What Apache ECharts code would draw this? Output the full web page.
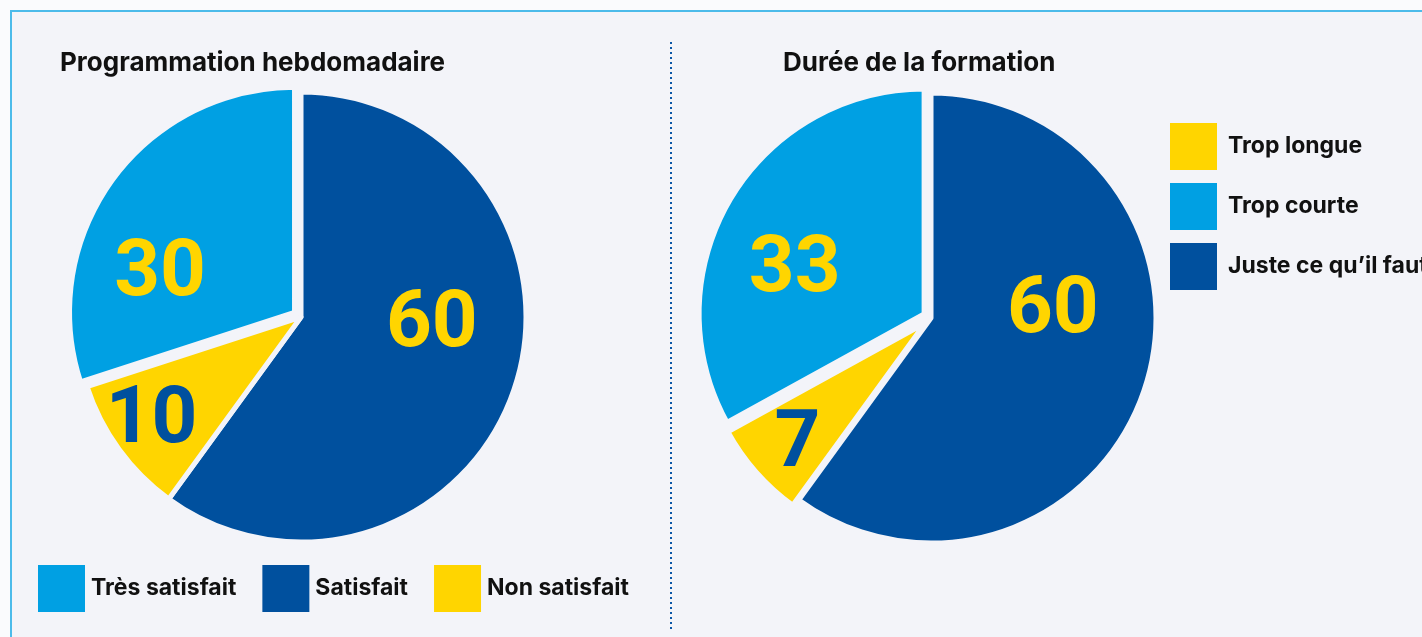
<!DOCTYPE html>
<html>
  <head>
    <meta charset="UTF-8" />
    <title>Satisfaction formation</title>
    <style>
      body {
        margin: 0;
        background-color: #fafbfd;
      }
      .frame {
        position: absolute;
        left: 10px;
        top: 10px;
        right: 0;
        bottom: 0;
        background-color: #f3f4f9;
        border-top: 2px solid #4cbbea;
        border-left: 2px solid #4cbbea;
      }
      #main {
        position: absolute;
        left: 0;
        top: 0;
        width: 1422px;
        height: 637px;
      }
    </style>
  </head>
  <body>
    <div class="frame"></div>
    <div id="main"></div>
  </body>
  <script src="https://cdn.jsdelivr.net/npm/echarts@6.0.0/dist/echarts.min.js"></script>
  <script>
    // donnees
    var titres = ["Programmation hebdomadaire", "Durée de la formation"];

    var progNoms = ["Satisfait", "Non satisfait", "Très satisfait"];
    var progValeurs = [60, 10, 30];
    var progLegende = ["Très satisfait", "Satisfait", "Non satisfait"];

    var dureeNoms = ["Juste ce qu’il faut", "Trop longue", "Trop courte"];
    var dureeValeurs = [60, 7, 33];
    var dureeLegende = ["Trop longue", "Trop courte", "Juste ce qu’il faut"];

    var BG = "#f3f4f9";
    var BLEU_FONCE = "#00509e";
    var BLEU_CLAIR = "#00a0e3";
    var JAUNE = "#ffd500";
    var couleurs = [BLEU_FONCE, JAUNE, BLEU_CLAIR];
    var couleursLabel = [JAUNE, BLEU_FONCE, JAUNE];

    // decalage des chiffres par rapport a la position "inside"
    var progDecal = [[21, -27], [-56, 37], [-41, 31]];
    var dureeDecal = [[12, -42], [-41, 46], [-30, 16]];

    // decalage horizontal par le padding, vertical par offset
    function pad(d) {
      var dx = d[0];
      return [0, Math.max(0, -2 * dx), 0, Math.max(0, 2 * dx)];
    }

    function buildData(noms, valeurs, decal, selection) {
      var out = [];
      for (var i = 0; i < noms.length; i++) {
        var lbl = { color: couleursLabel[i], padding: pad(decal[i]), offset: [0, decal[i][1]] };
        out.push({
          name: noms[i],
          value: valeurs[i],
          selected: selection[i],
          itemStyle: { color: couleurs[i] },
          label: lbl,
          select: { label: lbl },
        });
      }
      return out;
    }

    function pieSerie(center, data) {
      return {
        type: "pie",
        center: center,
        radius: 225,
        startAngle: 90,
        clockwise: true,
        selectedMode: "multiple",
        selectedOffset: 8,
        itemStyle: { borderColor: BG, borderWidth: 5 },
        select: { itemStyle: { borderColor: BG, borderWidth: 5 } },
        emphasis: { disabled: true },
        labelLine: { show: false },
        label: {
          show: true,
          position: "inside",
          formatter: "{c}",
          fontFamily: "Roboto",
          fontWeight: "bold",
          fontSize: 80,
        },
        data: data,
      };
    }

    var myChart = echarts.init(document.getElementById("main"));
    var option = {
      animation: false,
      title: [
        {
          text: titres[0],
          left: 55,
          top: 45,
          textStyle: { fontFamily: "Inter", fontWeight: "bold", fontSize: 26, color: "#111" },
        },
        {
          text: titres[1],
          left: 778,
          top: 45,
          textStyle: { fontFamily: "Inter", fontWeight: "bold", fontSize: 26, color: "#111" },
        },
      ],
      legend: [
        {
          data: progLegende,
          orient: "horizontal",
          left: 31,
          top: 558,
          icon: "rect",
          itemWidth: 49,
          itemHeight: 49,
          itemGap: 24,
          selectedMode: false,
          textStyle: { fontFamily: "Inter", fontWeight: "bold", fontSize: 23, color: "#111" },
        },
        {
          data: dureeLegende,
          orient: "vertical",
          left: 1163,
          top: 116,
          icon: "rect",
          itemWidth: 49,
          itemHeight: 49,
          itemGap: 9,
          selectedMode: false,
          textStyle: {
            fontFamily: "Inter",
            fontWeight: "bold",
            fontSize: 23,
            color: "#111",
            padding: [0, 0, 0, 5],
          },
        },
      ],
      graphic: [
        {
          type: "line",
          shape: { x1: 671, y1: 42, x2: 671, y2: 632 },
          style: { stroke: "#0a57a6", lineWidth: 2, lineDash: [2, 3] },
        },
      ],
      series: [
        pieSerie([301, 317], buildData(progNoms, progValeurs, progDecal, [false, false, true])),
        pieSerie([931, 318], buildData(dureeNoms, dureeValeurs, dureeDecal, [false, true, true])),
      ],
    };
    myChart.setOption(option);
  </script>
</html>
